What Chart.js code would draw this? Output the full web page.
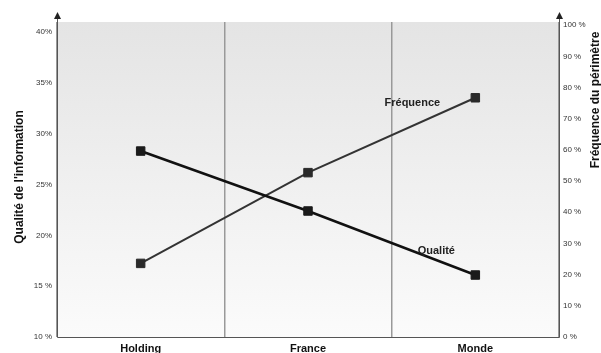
<!DOCTYPE html>
<html lang="fr">
<head>
<meta charset="utf-8">
<title>Qualité de l'information et fréquence du périmètre</title>
<script src="https://cdn.jsdelivr.net/npm/chart.js@4/dist/chart.umd.min.js"></script>
<style>
  html, body { margin: 0; padding: 0; background: #ffffff; }
  #wrap { width: 601px; height: 353px; }
</style>
</head>
<body>
<div id="wrap"><canvas id="c" width="601" height="353"></canvas></div>
<script>
// Périmètres comparés
const categories = ['Holding', 'France', 'Monde'];

// Qualité de l'information (%), axe de gauche
const qualite = [28.3, 22.4, 16.1];
// Fréquence du périmètre (%), axe de droite
const frequence = [23.6, 52.7, 76.7];

// Graduations de l'axe de gauche
const leftTickValues = [10, 15, 20, 25, 30, 35, 40];
const leftTickLabels = ['10 %', '15 %', '20%', '25%', '30%', '35%', '40%'];
// Graduations de l'axe de droite
const rightTickValues = [0, 10, 20, 30, 40, 50, 60, 70, 80, 90, 100];
const rightTickLabels = ['0 %', '10 %', '20 %', '30 %', '40 %', '50 %', '60 %', '70 %', '80 %', '90 %', '100 %'];

const leftTitle = "Qualité de l'information";
const rightTitle = 'Fréquence du périmètre';
const seriesLabels = ['Qualité', 'Fréquence'];

const FONT = '"Liberation Sans", Arial, Helvetica, sans-serif';
const AXIS_COLOR = '#555555';

// Fond dégradé de la zone de tracé
const plotBackground = {
  id: 'plotBackground',
  beforeDraw(chart) {
    const { ctx, chartArea: a } = chart;
    const g = ctx.createLinearGradient(0, a.top, 0, a.bottom);
    g.addColorStop(0, '#e4e4e4');
    g.addColorStop(1, '#fbfbfb');
    ctx.save();
    ctx.fillStyle = g;
    ctx.fillRect(a.left, a.top, a.right - a.left, a.bottom - a.top);
    ctx.restore();
  }
};

// Axes avec flèches, titres et étiquettes des courbes
const decorations = {
  id: 'decorations',
  beforeDatasetsDraw(chart) {
    const { ctx, chartArea: a } = chart;
    const arrowTop = a.top - 10;
    ctx.save();
    ctx.strokeStyle = AXIS_COLOR;
    ctx.lineWidth = 1;
    ctx.beginPath();
    ctx.moveTo(a.left + 0.5, arrowTop + 4);
    ctx.lineTo(a.left + 0.5, a.bottom + 0.5);
    ctx.lineTo(a.right + 0.5, a.bottom + 0.5);
    ctx.lineTo(a.right + 0.5, arrowTop + 4);
    ctx.stroke();
    ctx.fillStyle = '#222222';
    [a.left + 0.5, a.right + 0.5].forEach(x => {
      ctx.beginPath();
      ctx.moveTo(x, arrowTop);
      ctx.lineTo(x - 3.5, arrowTop + 7);
      ctx.lineTo(x + 3.5, arrowTop + 7);
      ctx.closePath();
      ctx.fill();
    });
    ctx.restore();
  },
  afterDraw(chart) {
    const { ctx, scales } = chart;
    ctx.save();
    ctx.fillStyle = '#111111';
    ctx.font = 'bold 12px ' + FONT;
    ctx.textAlign = 'center';
    ctx.textBaseline = 'middle';

    ctx.save();
    ctx.translate(20, 177);
    ctx.rotate(-Math.PI / 2);
    ctx.fillText(leftTitle, 0, 0);
    ctx.restore();

    ctx.save();
    ctx.translate(596, 100);
    ctx.rotate(-Math.PI / 2);
    ctx.fillText(rightTitle, 0, 0);
    ctx.restore();

    // étiquettes des courbes, placées près du dernier point
    const last = categories.length - 1;
    const xm = scales.x.getPixelForValue(last);
    ctx.fillStyle = '#222222';
    ctx.font = 'bold 11px ' + FONT;
    ctx.fillText(seriesLabels[1], xm - 63, scales.y2.getPixelForValue(frequence[last]) + 5);
    ctx.fillText(seriesLabels[0], xm - 39, scales.y.getPixelForValue(qualite[last]) - 24);
    ctx.restore();
  }
};

new Chart(document.getElementById('c'), {
  type: 'line',
  data: {
    labels: categories,
    datasets: [
      {
        label: seriesLabels[0],
        data: qualite,
        yAxisID: 'y',
        borderColor: '#111111',
        borderWidth: 2.5,
        pointStyle: 'rect',
        pointRadius: 6,
        pointBackgroundColor: '#1a1a1a',
        pointBorderColor: '#1a1a1a',
        pointBorderWidth: 1,
        tension: 0
      },
      {
        label: seriesLabels[1],
        data: frequence,
        yAxisID: 'y2',
        borderColor: '#333333',
        borderWidth: 2,
        pointStyle: 'rect',
        pointRadius: 6,
        pointBackgroundColor: '#2a2a2a',
        pointBorderColor: '#2a2a2a',
        pointBorderWidth: 1,
        tension: 0
      }
    ]
  },
  options: {
    responsive: false,
    animation: false,
    devicePixelRatio: 1,
    layout: { padding: { top: 22, left: 0, right: 0, bottom: 0 } },
    plugins: {
      legend: { display: false },
      tooltip: { enabled: false }
    },
    scales: {
      x: {
        type: 'category',
        offset: true,
        grid: { offset: true, color: '#999999', lineWidth: 1.5, drawTicks: false },
        border: { display: false },
        ticks: { color: '#111111', font: { family: FONT, size: 11, weight: 'bold' }, padding: 5 },
        afterFit(s) { s.height = 16; }
      },
      y: {
        position: 'left',
        min: 10,
        max: 41,
        grid: { display: false, drawTicks: false },
        border: { display: false },
        afterBuildTicks(s) { s.ticks = leftTickValues.map(v => ({ value: v })); },
        ticks: {
          color: '#333333',
          font: { family: FONT, size: 8 },
          padding: 5,
          callback(v) { const i = leftTickValues.indexOf(v); return i >= 0 ? leftTickLabels[i] : ''; }
        },
        afterFit(s) { s.width = 57; }
      },
      y2: {
        position: 'right',
        min: 0,
        max: 101,
        grid: { display: false, drawTicks: false },
        border: { display: false },
        afterBuildTicks(s) { s.ticks = rightTickValues.map(v => ({ value: v })); },
        ticks: {
          color: '#333333',
          font: { family: FONT, size: 8 },
          padding: 4,
          callback(v) { const i = rightTickValues.indexOf(v); return i >= 0 ? rightTickLabels[i] : ''; }
        },
        afterFit(s) { s.width = 42; }
      }
    }
  },
  plugins: [plotBackground, decorations]
});
</script>
</body>
</html>
